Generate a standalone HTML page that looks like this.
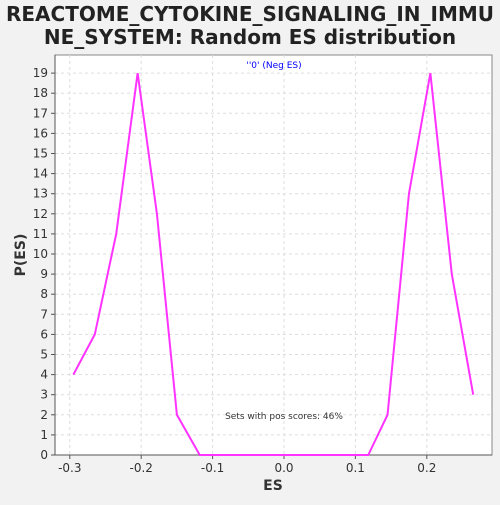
<!DOCTYPE html><html><head><style>body{margin:0;background:#f2f2f2;font-family:"Liberation Sans","DejaVu Sans",sans-serif}</style></head><body>
<svg id="c" width="500" height="500" xmlns="http://www.w3.org/2000/svg">
<rect width="500" height="500" fill="#f2f2f2"/>
<text x="250" y="21" text-anchor="middle" font-size="20" font-weight="bold" fill="#222" font-family="DejaVu Sans,sans-serif">REACTOME_CYTOKINE_SIGNALING_IN_IMMU</text>
<text x="250" y="44" text-anchor="middle" font-size="20" font-weight="bold" fill="#222" font-family="DejaVu Sans,sans-serif">NE_SYSTEM: Random ES distribution</text>
<rect x="55" y="55" width="437" height="400" fill="#fff" stroke="#888"/>
<g id="grid"></g><g id="axes"></g>
<text x="274" y="68" text-anchor="middle" font-size="9" fill="#00f" font-family="DejaVu Sans,sans-serif">''0' (Neg ES)</text>
<text x="284" y="419" text-anchor="middle" font-size="9" fill="#333" font-family="DejaVu Sans,sans-serif">Sets with pos scores: 46%</text>
<text x="273" y="490" text-anchor="middle" font-size="14" font-weight="bold" fill="#333" font-family="DejaVu Sans,sans-serif">ES</text>
<text x="25" y="255" text-anchor="middle" font-size="14" font-weight="bold" fill="#333" font-family="DejaVu Sans,sans-serif" transform="rotate(-90 25 255)">P(ES)</text>
<polyline id="line" fill="none" stroke="#ff33ff" stroke-width="2"/>
</svg>
<script>
const esValues=[-0.295,-0.265,-0.235,-0.205,-0.178,-0.15,-0.118,-0.088,-0.059,-0.029,0,0.029,0.059,0.088,0.118,0.145,0.175,0.205,0.235,0.265];
const pValues=[4,6,11,19,12,2,0,0,0,0,0,0,0,0,0,2,13,19,9,3];
const xTicks=[-0.3,-0.2,-0.1,0.0,0.1,0.2];
const yTicks=[0,1,2,3,4,5,6,7,8,9,10,11,12,13,14,15,16,17,18,19];
const X=v=>284+v*714, Y=v=>455-v*20.1;
const ns="http://www.w3.org/2000/svg";
const g=document.getElementById('grid'),a=document.getElementById('axes');
function mk(t,at,p){const e=document.createElementNS(ns,t);for(const k in at)e.setAttribute(k,at[k]);p.appendChild(e);return e;}
xTicks.forEach(v=>{const x=X(v);
const l=mk('line',{x1:x,x2:x,y1:55,y2:455,stroke:'#ddd','stroke-dasharray':'3,3'},g);


mk('line',{x1:x,x2:x,y1:455,y2:459,stroke:'#555'},a);
const t=mk('text',{x:x,y:472,'text-anchor':'middle','font-size':12,fill:'#333','font-family':'DejaVu Sans,sans-serif'},a);
t.textContent=v.toFixed(1);

});
yTicks.forEach(v=>{const y=Y(v);
const l=mk('line',{x1:55,x2:492,y1:y,y2:y,stroke:'#ddd','stroke-dasharray':'3,3'},g);


mk('line',{x1:51,x2:55,y1:y,y2:y,stroke:'#555'},a);
const t=mk('text',{x:48,y:y+4,'text-anchor':'end','font-size':12,fill:'#333','font-family':'DejaVu Sans,sans-serif'},a);
t.textContent=v;

});
mk('line',{x1:55,x2:492,y1:455,y2:455,stroke:'#555'},a);
mk('line',{x1:55,x2:55,y1:55,y2:455,stroke:'#555'},a);
document.getElementById('line').setAttribute('points',esValues.map((v,i)=>X(v)+','+Y(pValues[i])).join(' '));
</script></body></html>
